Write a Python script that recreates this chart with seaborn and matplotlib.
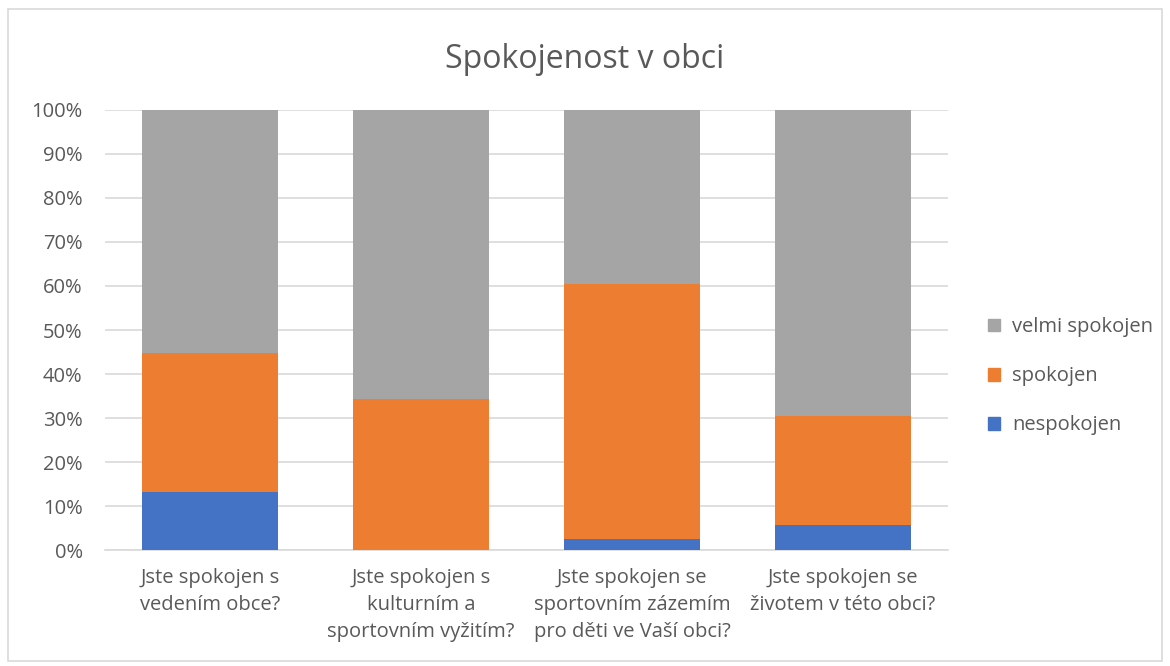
import pandas as pd
import seaborn as sns
import matplotlib.pyplot as plt
from matplotlib.patches import Rectangle, Patch
from matplotlib.ticker import PercentFormatter

# data (percent of answers)
otazky = [
    "Jste spokojen s\nvedením obce?",
    "Jste spokojen s\nkulturním a\nsportovním vyžitím?",
    "Jste spokojen se\nsportovním zázemím\npro děti ve Vaší obci?",
    "Jste spokojen se\nživotem v této obci?",
]
nespokojen = [13.1, 0.0, 2.6, 5.8]
spokojen = [31.7, 34.4, 57.9, 24.7]
velmi_spokojen = [55.2, 65.6, 39.5, 69.5]

barvy = {"nespokojen": "#4472C4", "spokojen": "#ED7D31", "velmi spokojen": "#A5A5A5"}
text_col = "#595959"

df = pd.DataFrame({"otazka": otazky, "nespokojen": nespokojen,
                   "spokojen": spokojen, "velmi spokojen": velmi_spokojen})
# cumulative tops for stacking
df["top_nesp"] = df["nespokojen"]
df["top_spok"] = df["nespokojen"] + df["spokojen"]
df["top_velmi"] = df["top_spok"] + df["velmi spokojen"]

sns.set_style("white")
plt.rcParams["font.family"] = ["Open Sans", "DejaVu Sans"]

fig = plt.figure(figsize=(11.7, 6.66), dpi=100)
ax = fig.add_axes([0.0897, 0.174, 0.7206, 0.661])

for col, name in [("top_velmi", "velmi spokojen"), ("top_spok", "spokojen"), ("top_nesp", "nespokojen")]:
    sns.barplot(data=df, x="otazka", y=col, color=barvy[name], width=0.645,
                saturation=1, linewidth=0, ax=ax, zorder=3)

ax.set_ylim(0, 100)
ax.set_yticks(range(0, 101, 10))
ax.yaxis.set_major_formatter(PercentFormatter(decimals=0))
ax.grid(axis="y", color="#D9D9D9", lw=1.2, zorder=0)
for s in ["top", "right", "left"]:
    ax.spines[s].set_visible(False)
ax.spines["bottom"].set_color("#D9D9D9")
ax.spines["bottom"].set_linewidth(1.2)
ax.tick_params(axis="y", length=0, labelsize=14.5, labelcolor=text_col, pad=16)
ax.tick_params(axis="x", length=0, labelsize=14.5, labelcolor=text_col, pad=13)
for t in ax.get_xticklabels():
    t.set_linespacing(1.45)
ax.set_xlabel("")
ax.set_ylabel("")

fig.suptitle("Spokojenost v obci", x=0.5, y=0.935, fontsize=23, color=text_col)

handles = [Patch(color=barvy[n], label=n) for n in ["velmi spokojen", "spokojen", "nespokojen"]]
fig.legend(handles=handles, loc="center left", bbox_to_anchor=(0.829, 0.435), frameon=False,
           fontsize=14.5, labelcolor=text_col, handlelength=0.6, handleheight=0.6,
           labelspacing=1.45, handletextpad=0.6)

fig.patches.append(Rectangle((0.007, 0.008), 0.986, 0.978, transform=fig.transFigure,
                             fill=False, edgecolor="#D9D9D9", lw=1.2))

fig.savefig("out.png", dpi=100)
